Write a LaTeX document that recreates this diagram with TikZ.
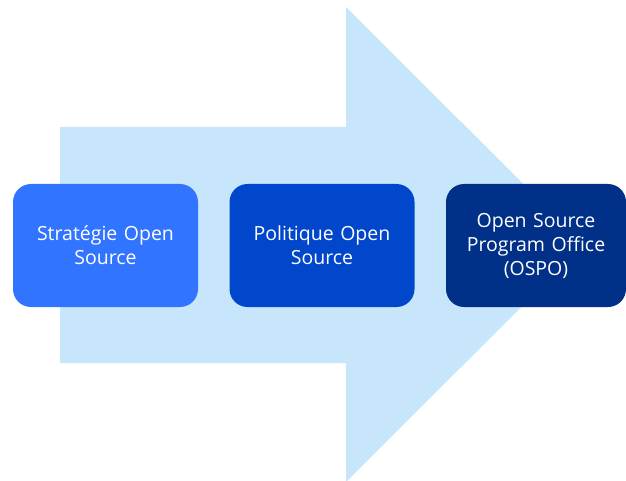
\documentclass[tikz,border=0pt]{standalone}
\usepackage{fontspec}
\setmainfont{Open Sans}
\definecolor{arrowfill}{HTML}{C7E6FC}
\definecolor{boxA}{HTML}{3174FF}
\definecolor{boxB}{HTML}{0047CC}
\definecolor{boxC}{HTML}{003087}
\begin{document}
\begin{tikzpicture}[x=1pt,y=-1pt,
  stepbox/.style={rounded corners=18pt, minimum width=185pt, minimum height=123pt,
    text=white, align=center, font=\fontsize{19.5}{24}\selectfont, inner sep=0pt, text width=178pt}]
\useasboundingbox (0,0) rectangle (626,481);
\fill[arrowfill] (60,127) -- (346,127) -- (346,7) -- (584,244.5) -- (346,482) -- (346,363) -- (60,363) -- cycle;
\node[stepbox, fill=boxA] (s1) at (105.5,245.5) {Stratégie Open\\Source};
\node[stepbox, fill=boxB] (s2) at (322,245.5) {Politique Open\\Source};
\node[stepbox, fill=boxC, minimum width=180pt] (s3) at (536,245.5) {Open Source\\Program Office\\(OSPO)};
\end{tikzpicture}
\end{document}
